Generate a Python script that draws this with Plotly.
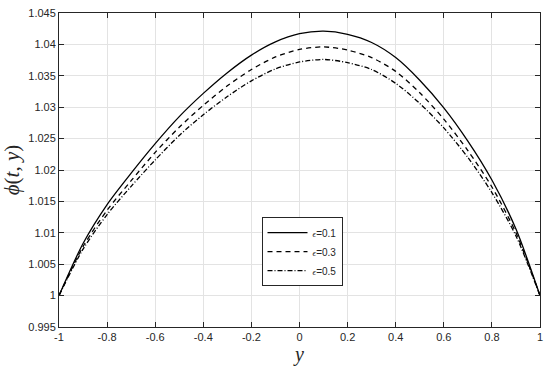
import plotly.graph_objects as go

# y positions across the channel
y_vals = [-1.0, -0.9, -0.8, -0.7, -0.6, -0.5, -0.4, -0.3, -0.2, -0.1, 0.0,
          0.1, 0.2, 0.3, 0.4, 0.5, 0.6, 0.7, 0.8, 0.9, 1.0]

# phi(t, y) for each epsilon
phi_eps01 = [1.0000, 1.0083, 1.0145, 1.0195, 1.0242, 1.0285, 1.0322, 1.0355, 1.0383, 1.0404, 1.0417,
             1.0421, 1.0416, 1.0403, 1.0379, 1.0343, 1.0299, 1.0246, 1.0184, 1.0106, 1.0000]
phi_eps03 = [1.0000, 1.0078, 1.0136, 1.0183, 1.0228, 1.0268, 1.0303, 1.0334, 1.0360, 1.0380, 1.0392,
             1.0396, 1.0391, 1.0379, 1.0357, 1.0323, 1.0281, 1.0231, 1.0173, 1.0100, 1.0000]
phi_eps05 = [1.0000, 1.0074, 1.0129, 1.0174, 1.0216, 1.0255, 1.0288, 1.0317, 1.0342, 1.0361, 1.0372,
             1.0376, 1.0371, 1.0360, 1.0338, 1.0306, 1.0267, 1.0220, 1.0164, 1.0095, 1.0000]

x_ticks = [-1, -0.8, -0.6, -0.4, -0.2, 0, 0.2, 0.4, 0.6, 0.8, 1]
x_ticktext = ["-1", "-0.8", "-0.6", "-0.4", "-0.2", "0", "0.2", "0.4", "0.6", "0.8", "1"]
y_ticks = [0.995, 1.0, 1.005, 1.01, 1.015, 1.02, 1.025, 1.03, 1.035, 1.04, 1.045]
y_ticktext = ["0.995", "1", "1.005", "1.01", "1.015", "1.02", "1.025", "1.03", "1.035", "1.04", "1.045"]

eps_labels = ["0.1", "0.3", "0.5"]
series = [phi_eps01, phi_eps03, phi_eps05]
dashes = ["solid", "5px,4px", "5px,2px,1px,2px"]

AX = "#262626"

fig = go.Figure()

for lab, vals, dash in zip(eps_labels, series, dashes):
    fig.add_trace(go.Scatter(
        x=y_vals, y=vals, mode="lines",
        name=f"<span style='font-family:Liberation Serif;font-style:italic;font-size:9px'>ϵ</span>={lab}",
        line=dict(color="black", width=1.3, dash=dash, shape="spline", smoothing=0.8)
    ))

axis_common = dict(
    showline=True, linecolor=AX, linewidth=1, mirror="ticks",
    ticks="inside", ticklen=5, tickcolor=AX,
    showgrid=True, gridcolor="#e3e3e3", gridwidth=1,
    zeroline=False,
    tickfont=dict(family="Liberation Sans, Arial", size=11, color=AX),
)

fig.update_xaxes(
    range=[-1, 1], tickvals=x_ticks, ticktext=x_ticktext,
    title=dict(text="<i>y</i>", font=dict(family="Liberation Serif", size=20, color=AX), standoff=4),
    **axis_common
)
fig.update_yaxes(
    range=[0.995, 1.045], tickvals=y_ticks, ticktext=y_ticktext,
    title=dict(text="<i>ϕ</i>(<i>t</i>, <i>y</i>)", font=dict(family="Liberation Serif", size=21, color=AX), standoff=6),
    **axis_common
)

fig.update_layout(
    width=550, height=374,
    margin=dict(l=59, r=7, t=10, b=47),
    paper_bgcolor="white", plot_bgcolor="white",
    showlegend=True,
    legend=dict(
        x=0.421, y=0.35, xanchor="left", yanchor="top",
        bgcolor="white", bordercolor=AX, borderwidth=1,
        font=dict(family="Liberation Sans, Arial", size=10, color=AX),
        tracegroupgap=0, itemwidth=40,
    ),
)

# drop the page's default body margin so the figure sits at the window origin
fig.write_html("out.html", config={"displayModeBar": False},
               post_script="document.body.style.margin='0';")
